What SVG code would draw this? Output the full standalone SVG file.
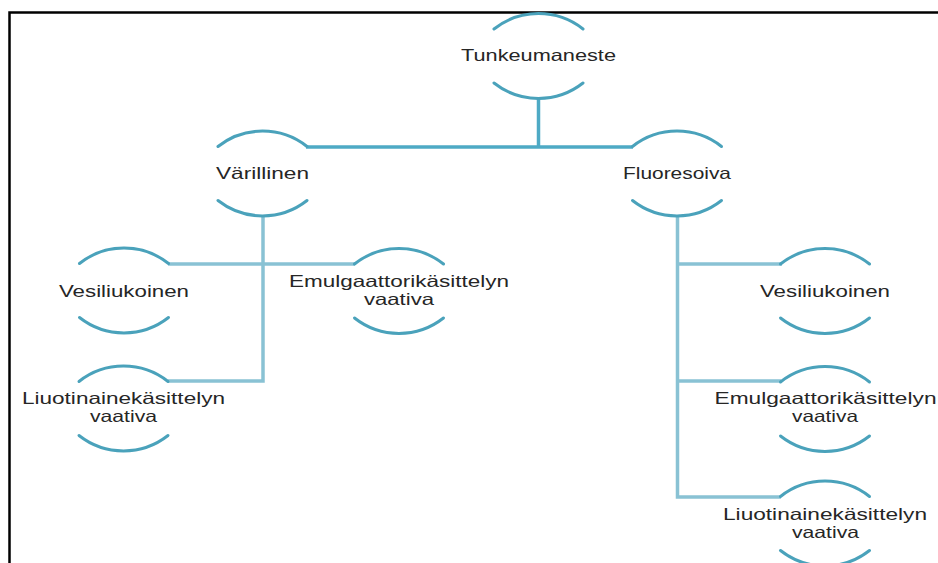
<svg xmlns="http://www.w3.org/2000/svg" xmlns:xlink="http://www.w3.org/1999/xlink" width="938" height="563" viewBox="0 0 938 563">
  <style>
    .arc { fill: none; stroke: #4aa2bb; stroke-width: 3; stroke-linecap: round; }
    .link1 { fill: none; stroke: #4eaac5; stroke-width: 3.5; }
    .link2 { fill: none; stroke: #89c2d4; stroke-width: 3.5; }
    .lbl { font-family: "Liberation Sans", Arial, sans-serif; font-size: 16.5px; fill: #262626; text-anchor: middle; }
    .frame { fill: none; stroke: #000; stroke-width: 2.5; }
  </style>
  <defs>
    <!-- open circle: upper and lower arcs around a label centred at 0,0 -->
    <g id="ring">
      <path class="arc" d="M -44.5 -27 A 72 72 0 0 1 44.5 -27"/>
      <path class="arc" d="M -44.5 27 A 72 72 0 0 0 44.5 27"/>
    </g>
  </defs>

  <rect width="938" height="563" fill="#fff"/>
  <!-- page frame -->
  <path class="frame" d="M 9.5 563 L 9.5 12.5 L 938 12.5"/>

  <g id="connectors">
    <path class="link1" d="M 538.5 98 L 538.5 147"/>
    <path class="link1" d="M 306 147 L 633 147"/>
    <path class="link2" d="M 263 215 L 263 381 L 168 381"/>
    <path class="link2" d="M 168 264 L 355 264"/>
    <path class="link2" d="M 677.5 216 L 677.5 497 L 781 497"/>
    <path class="link2" d="M 677.5 264 L 782 264"/>
    <path class="link2" d="M 677.5 381 L 781 381"/>
  </g>

  <g id="tunkeumaneste" transform="translate(538.5 56)">
    <use xlink:href="#ring"/>
    <text class="lbl" x="0" y="5" textLength="155" lengthAdjust="spacingAndGlyphs">Tunkeumaneste</text>
  </g>

  <g id="varillinen" transform="translate(262.5 173.5)">
    <use xlink:href="#ring"/>
    <text class="lbl" x="0" y="5.5" textLength="93" lengthAdjust="spacingAndGlyphs">Värillinen</text>
  </g>

  <g id="fluoresoiva" transform="translate(677 173.5)">
    <use xlink:href="#ring"/>
    <text class="lbl" x="0" y="5.5" textLength="108" lengthAdjust="spacingAndGlyphs">Fluoresoiva</text>
  </g>

  <g id="varillinen-vesiliukoinen" transform="translate(124 290.5)">
    <use xlink:href="#ring"/>
    <text class="lbl" x="0" y="6" textLength="130" lengthAdjust="spacingAndGlyphs">Vesiliukoinen</text>
  </g>

  <g id="varillinen-emulgaattori" transform="translate(399 291)">
    <use xlink:href="#ring"/>
    <text class="lbl" x="0" y="-4" textLength="220" lengthAdjust="spacingAndGlyphs">Emulgaattorikäsittelyn</text>
    <text class="lbl" x="0" y="14" textLength="70" lengthAdjust="spacingAndGlyphs">vaativa</text>
  </g>

  <g id="varillinen-liuotin" transform="translate(123.5 408.5)">
    <use xlink:href="#ring"/>
    <text class="lbl" x="0" y="-5" textLength="203" lengthAdjust="spacingAndGlyphs">Liuotinainekäsittelyn</text>
    <text class="lbl" x="0" y="13.5" textLength="67" lengthAdjust="spacingAndGlyphs">vaativa</text>
  </g>

  <g id="fluoresoiva-vesiliukoinen" transform="translate(825 291)">
    <use xlink:href="#ring"/>
    <text class="lbl" x="0" y="5.5" textLength="130" lengthAdjust="spacingAndGlyphs">Vesiliukoinen</text>
  </g>

  <g id="fluoresoiva-emulgaattori" transform="translate(825 409)">
    <use xlink:href="#ring"/>
    <text class="lbl" x="0.5" y="-5.5" textLength="222" lengthAdjust="spacingAndGlyphs">Emulgaattorikäsittelyn</text>
    <text class="lbl" x="0" y="13" textLength="66" lengthAdjust="spacingAndGlyphs">vaativa</text>
  </g>

  <g id="fluoresoiva-liuotin" transform="translate(825 523.5)">
    <use xlink:href="#ring"/>
    <text class="lbl" x="0" y="-3.5" textLength="204" lengthAdjust="spacingAndGlyphs">Liuotinainekäsittelyn</text>
    <text class="lbl" x="0.5" y="14.5" textLength="67" lengthAdjust="spacingAndGlyphs">vaativa</text>
  </g>
</svg>
